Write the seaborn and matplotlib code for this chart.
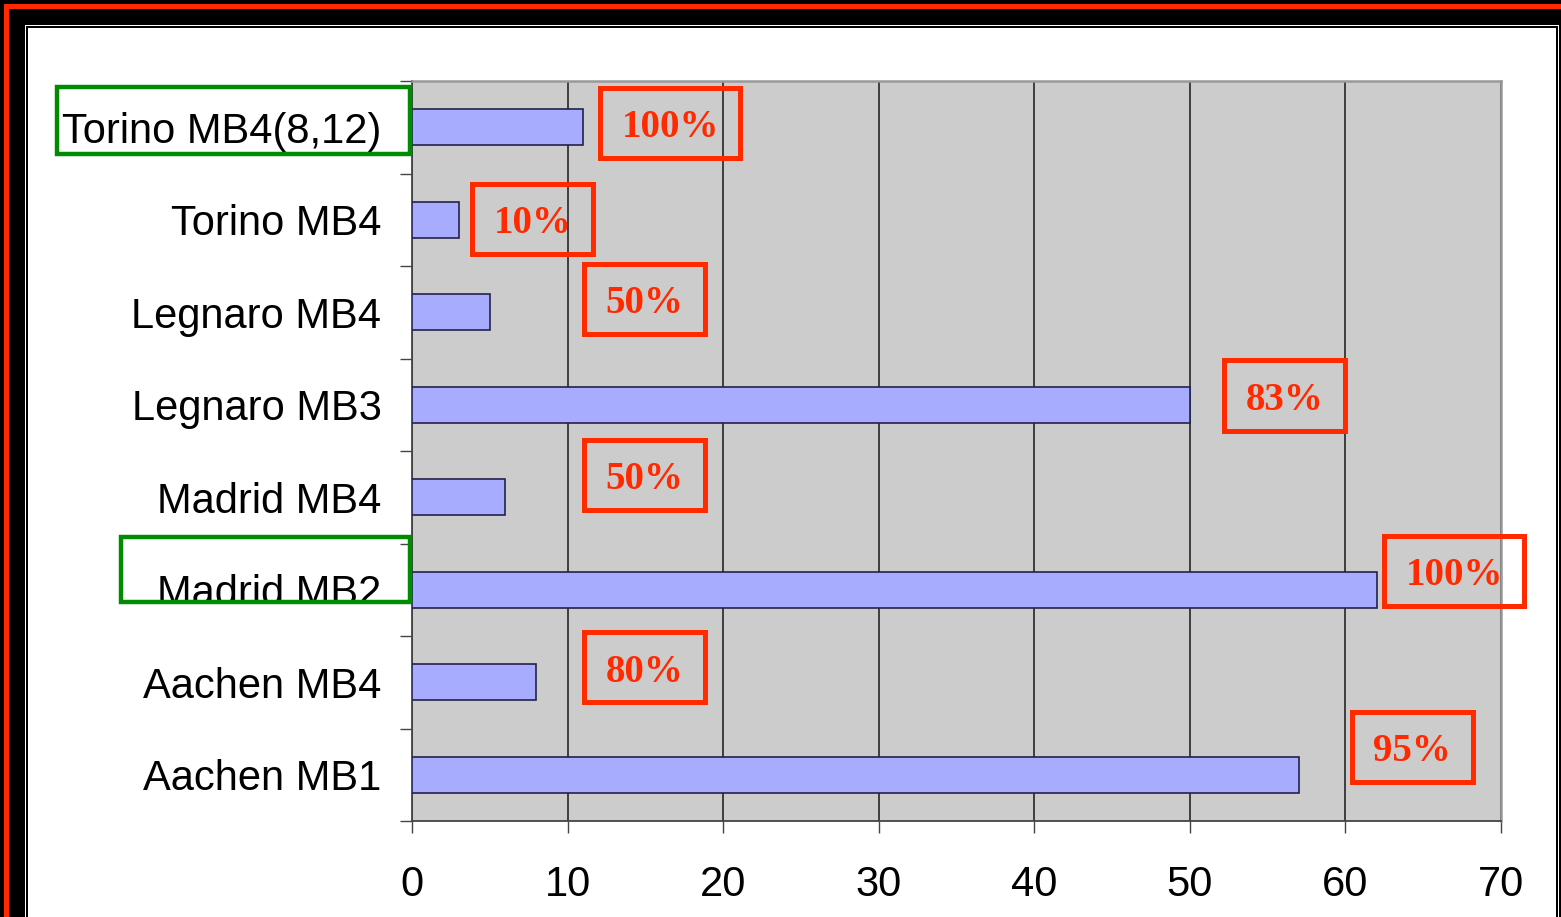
import numpy as np
import matplotlib
matplotlib.use("Agg")
import matplotlib.pyplot as plt
from matplotlib.patches import Rectangle
import seaborn as sns

# Bar data (top to bottom)
stations = ["Torino MB4(8,12)", "Torino MB4", "Legnaro MB4", "Legnaro MB3",
            "Madrid MB4", "Madrid MB2", "Aachen MB4", "Aachen MB1"]
counts = [11, 3, 5, 50, 6, 62, 8, 57]
efficiency = ["100%", "10%", "50%", "83%", "50%", "100%", "80%", "95%"]
x_ticks = [0, 10, 20, 30, 40, 50, 60, 70]

# Callout placement (data units): centre of each red box
callout_x = [16.6, 7.75, 14.95, 56.1, 14.95, 67.0, 14.95, 64.3]
callout_y = [-0.05, 0.99, 1.86, 2.90, 3.76, 4.80, 5.84, 6.70]
highlighted = [0, 5]
highlight_left = [-22.8, -18.7]

W, H = 1561, 917
plt.rcParams["font.family"] = ["Liberation Sans", "DejaVu Sans"]
fig = plt.figure(figsize=(W / 100, H / 100), dpi=100, facecolor="black")


def px_rect(x0, y0, x1, y1, **kw):
    return Rectangle((x0 / W, 1 - y1 / H), (x1 - x0) / W, (y1 - y0) / H,
                     transform=fig.transFigure, **kw)


# slide frame
fig.patches.extend([
    px_rect(4, 4, 1700, 1100, facecolor="#ff2a00", edgecolor="none", zorder=-10),
    px_rect(9, 9, 1700, 1100, facecolor="black", edgecolor="none", zorder=-9),
    px_rect(25, 25, 1559, 1100, facecolor="white", edgecolor="none", zorder=-8),
    px_rect(26, 26, 1558, 1100, facecolor="black", edgecolor="none", zorder=-7),
    px_rect(28, 28, 1556, 1100, facecolor="white", edgecolor="none", zorder=-6),
])

ax = fig.add_axes([412 / W, 1 - 821 / H, (1501 - 412) / W, (821 - 81) / H])
ax.set_facecolor("#cccccc")

sns.barplot(x=counts, y=stations, orient="h", color="#a8acff", saturation=1,
            edgecolor="#22224a", linewidth=1.2, width=0.39, ax=ax, zorder=3)

ax.set_xlim(0, 70)
ax.set_ylim(7.5, -0.5)
ax.set_xticks(x_ticks)
ax.set_xticklabels([str(t) for t in x_ticks])
ax.set_xlabel("")
ax.set_ylabel("")
ax.xaxis.grid(True, color="#333333", linewidth=1.3, zorder=1)
ax.yaxis.grid(False)
ax.set_axisbelow(True)

for side in ("left", "bottom"):
    ax.spines[side].set_color("#444444")
    ax.spines[side].set_linewidth(1.3)
for side in ("top", "right"):
    ax.spines[side].set_color("#999999")
    ax.spines[side].set_linewidth(1.8)

ax.set_yticks(np.arange(-0.5, len(stations)), minor=True)
ax.tick_params(axis="y", which="major", length=0, pad=22, labelsize=30,
               labelcolor="black")
ax.tick_params(axis="y", which="minor", length=8.6, width=1.0, color="#444444")
ax.tick_params(axis="x", which="major", length=8.6, width=1.0, color="#444444",
               pad=23, labelsize=30, labelcolor="black")

# red efficiency callouts
for txt, cx, cy in zip(efficiency, callout_x, callout_y):
    bw = 9.0 if len(txt) > 3 else 7.78
    bh = 0.757
    ax.add_patch(Rectangle((cx - bw / 2, cy - bh / 2), bw, bh, fill=False,
                           edgecolor="#ff2a00", linewidth=3.6, clip_on=False,
                           zorder=5))
    ax.text(cx, cy + 0.05, txt, ha="center", va="center", color="#ff2a00",
            fontsize=28, fontweight="bold", family=["Liberation Serif"],
            zorder=6, clip_on=False)

# green highlight boxes around selected station labels
labels = ax.get_yticklabels()
for idx, left in zip(highlighted, highlight_left):
    top = idx - 0.43 if idx == 0 else idx - 0.57
    bottom = idx + 0.29 if idx == 0 else idx + 0.13
    box = Rectangle((left, top), -0.13 - left, bottom - top, fill=False,
                    edgecolor="#008c00", linewidth=3.2, clip_on=False, zorder=7)
    ax.add_patch(box)
    if idx == 5:
        labels[idx].set_clip_path(box)
        labels[idx].set_clip_on(True)

fig.savefig("out.png", dpi=100, facecolor=fig.get_facecolor())
